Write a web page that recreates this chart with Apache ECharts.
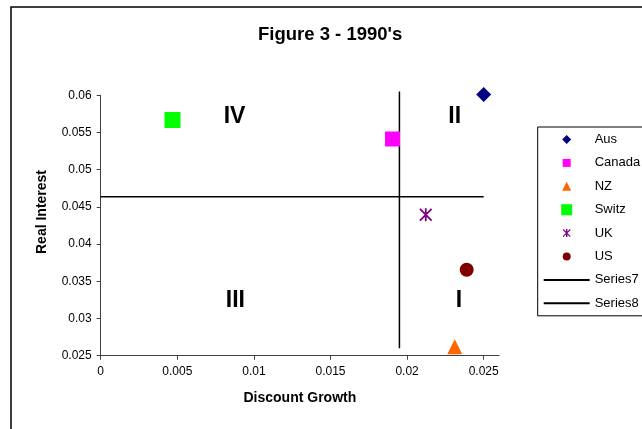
<!DOCTYPE html>
<html>
<head>
<meta charset="utf-8">
<script src="https://cdn.jsdelivr.net/npm/echarts@6/dist/echarts.min.js"></script>
<style>html,body{margin:0;padding:0;background:#fff;}#c{width:642px;height:429px;}</style>
</head>
<body>
<div id="c"></div>
<script>
// ---- data ----
const countries = ['Aus', 'Canada', 'NZ', 'Switz', 'UK', 'US'];
const discountGrowth = [0.0250, 0.01905, 0.02311, 0.00469, 0.02122, 0.02389];
const realInterest = [0.0601, 0.05413, 0.0262, 0.05668, 0.04395, 0.03656];
const series7X = [0, 0.025];
const series7Y = [0.04637, 0.04637];
const series8X = [0.0195, 0.0195];
const series8Y = [0.026, 0.0605];
const quadLabels = ['IV', 'II', 'III', 'I'];
const quadX = [0.00874, 0.02311, 0.00879, 0.02339];
const quadY = [0.05717, 0.05717, 0.03242, 0.03242];
const xTicks = [0, 0.005, 0.01, 0.015, 0.02, 0.025];
const yTicks = [0.025, 0.03, 0.035, 0.04, 0.045, 0.05, 0.055, 0.06];

// ---- styles ----
const FONT = '"Liberation Sans", Arial, sans-serif';
const colors = ['#000080', '#FF00FF', '#FF6600', '#00FF00', '#800080', '#800000'];
const STAR = 'M4.3,0L5.7,0L5.7,10L4.3,10Z M1,0L10,9L9,10L0,1Z M9,0L10,1L1,10L0,9Z';
const symbols = ['diamond', 'rect', 'triangle', 'rect', 'path://' + STAR, 'circle'];
const sizes = [15, 15, 15, 16, 13, 14];
// legend icons (11x11 boxes, margins keep the glyph smaller)
const M = 'M0,0L0,0M11,11L11,11';
const legendIcons = [
  'path://' + M + 'M5.5,1L10,5.5L5.5,10L1,5.5Z',
  'path://' + M + 'M1.5,1.5L9.5,1.5L9.5,9.5L1.5,9.5Z',
  'path://' + M + 'M5.5,1L10,10L1,10Z',
  'path://M0,0L11,0L11,11L0,11Z',
  'path://' + M + 'M1.5,1.5' + 'M4.8,1.5L6.2,1.5L6.2,9.5L4.8,9.5Z M2.3,1.5L9.5,8.7L8.7,9.5L1.5,2.3Z M8.7,1.5L9.5,2.3L2.3,9.5L1.5,8.7Z',
  'path://' + M + 'M5.5,1.5A4,4 0 1 1 5.5,9.5A4,4 0 1 1 5.5,1.5Z'
];

const chart = echarts.init(document.getElementById('c'), null, {renderer: 'canvas'});

const scatterSeries = countries.map((name, i) => ({
  name: name,
  type: 'scatter',
  symbol: symbols[i],
  symbolSize: sizes[i],
  symbolKeepAspect: true,
  clip: false,
  itemStyle: {color: colors[i], opacity: 1},
  data: [[discountGrowth[i], realInterest[i]]],
  z: 3
}));

const legendData = countries.map((n, i) => ({name: n, icon: legendIcons[i]})).concat([
  {name: 'Series7', itemStyle: {opacity: 0}},
  {name: 'Series8', itemStyle: {opacity: 0}}
]);

const option = {
  backgroundColor: '#fff',
  animation: false,
  title: {
    text: "Figure 3 - 1990's",
    left: 253,
    top: 20,
    textStyle: {fontFamily: FONT, fontSize: 18.5, fontWeight: 'bold', color: '#000'}
  },
  grid: {left: 100.7, right: 143, top: 95.3, bottom: 73.3, containLabel: false},
  xAxis: {
    type: 'value',
    min: 0, max: 0.026, interval: 0.005,
    name: 'Discount Growth',
    nameLocation: 'middle',
    nameGap: 35,
    nameTextStyle: {fontFamily: FONT, fontSize: 14, fontWeight: 'bold', color: '#000'},
    axisLine: {show: true, onZero: false, lineStyle: {color: '#404040', width: 1}},
    axisTick: {show: true, length: 4, inside: false, customValues: xTicks, lineStyle: {color: '#404040'}},
    axisLabel: {show: true, margin: 10, customValues: xTicks, fontFamily: FONT, fontSize: 12, color: '#000'},
    splitLine: {show: false}
  },
  yAxis: {
    type: 'value',
    min: 0.025, max: 0.06, interval: 0.005,
    axisLine: {show: true, onZero: false, lineStyle: {color: '#404040', width: 1}},
    axisTick: {show: true, length: 4, inside: false, customValues: yTicks, lineStyle: {color: '#404040'}},
    axisLabel: {show: true, margin: 9, customValues: yTicks, fontFamily: FONT, fontSize: 12, color: '#000'},
    splitLine: {show: false}
  },
  legend: {
    orient: 'vertical',
    left: 537.7,
    top: 127,
    padding: [6, 10, 6, 5],
    borderColor: '#000',
    borderWidth: 1,
    itemWidth: 46,
    itemHeight: 11,
    itemGap: 10.4,
    symbolKeepAspect: true,
    textStyle: {fontFamily: FONT, fontSize: 13, color: '#000'},
    data: legendData
  },
  graphic: [
    {
      type: 'rect',
      shape: {x: 11, y: 7, width: 700, height: 500},
      style: {fill: null, stroke: '#000', lineWidth: 1.5},
      silent: true
    },
    {
      type: 'text',
      x: 42, y: 212,
      rotation: Math.PI / 2,
      style: {text: 'Real Interest', fontFamily: FONT, fontSize: 14, fontWeight: 'bold', fill: '#000', align: 'center', verticalAlign: 'middle'},
      silent: true
    }
  ],
  series: scatterSeries.concat([
    {
      name: 'Series7', type: 'line', symbol: 'none', clip: false,
      lineStyle: {color: '#000', width: 1.5},
      itemStyle: {color: '#000'},
      data: series7X.map((x, i) => [x, series7Y[i]]),
      z: 2
    },
    {
      name: 'Series8', type: 'line', symbol: 'none', clip: false,
      lineStyle: {color: '#000', width: 1.5},
      itemStyle: {color: '#000'},
      data: series8X.map((x, i) => [x, series8Y[i]]),
      z: 2
    },
    {
      name: 'quadrants', type: 'scatter', symbolSize: 0, silent: true,
      itemStyle: {opacity: 1},
      label: {
        show: true, position: 'inside',
        formatter: (p) => quadLabels[p.dataIndex],
        fontFamily: FONT, fontSize: 23, fontWeight: 'bold', color: '#000', opacity: 1
      },
      data: quadX.map((x, i) => [x, quadY[i]]),
      z: 4
    }
  ])
};
chart.setOption(option);
</script>
</body>
</html>
